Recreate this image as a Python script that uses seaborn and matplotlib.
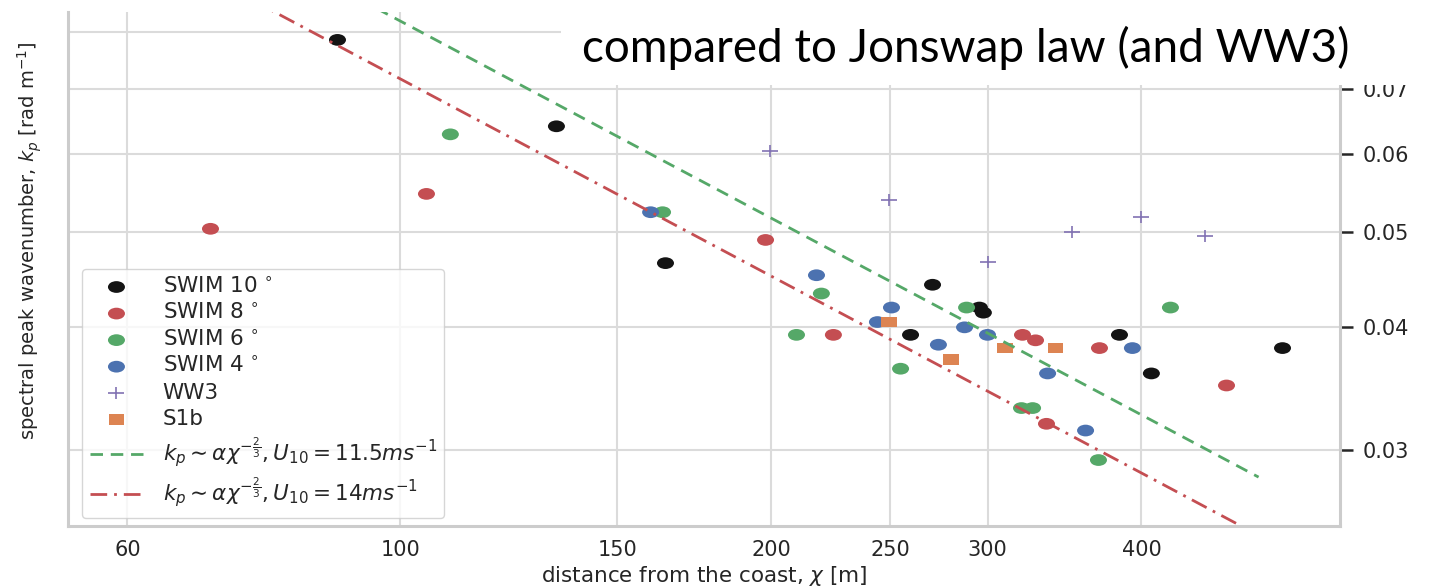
import matplotlib
matplotlib.use("Agg")
import matplotlib.pyplot as plt
import seaborn as sns
from matplotlib import ticker
from matplotlib.path import Path
from matplotlib.transforms import Affine2D
from matplotlib.patches import Rectangle

# Valores (distancia a la costa [m], k_p [rad/m])
swim10_x = [88.9, 133.9, 164.2, 259.7, 270.6, 295.4, 297.6, 383.9, 407.5, 520.8]
swim10_k = [0.0785, 0.0641, 0.0465, 0.0393, 0.0442, 0.0419, 0.0414, 0.0393, 0.0359, 0.0381]

swim8_x = [70.1, 105.0, 198.0, 224.8, 320.2, 328.1, 369.8, 334.9, 469.0]
swim8_k = [0.0504, 0.0547, 0.0491, 0.0393, 0.0393, 0.0388, 0.0381, 0.0319, 0.0349]

swim6_x = [109.8, 163.3, 219.8, 209.8, 254.9, 288.4, 319.6, 326.3, 369.1, 422.3]
swim6_k = [0.0629, 0.0524, 0.0433, 0.0393, 0.0363, 0.0419, 0.0331, 0.0331, 0.0293, 0.0419]

swim4_x = [159.7, 217.8, 250.6, 244.1, 273.6, 287.3, 299.9, 335.6, 360.3, 393.3]
swim4_k = [0.0524, 0.0452, 0.0419, 0.0405, 0.0384, 0.0400, 0.0393, 0.0359, 0.0314, 0.0381]

ww3_x = [199.8, 249.6, 300.4, 351.0, 399.4, 450.1]
ww3_k = [0.0605, 0.0539, 0.0466, 0.0500, 0.0518, 0.0496]

s1b_x = [249.6, 280.3, 310.1, 340.6]
s1b_k = [0.0405, 0.0371, 0.0381, 0.0381]

# Ley de Jonswap (rectas en log-log, extremos leídos)
law_x = [60, 498]
law_k_115 = [0.1153, 0.02815]
law_k_14 = [0.1007, 0.02456]

x_ticks = [60, 100, 150, 200, 250, 300, 400]
y_ticks = [0.03, 0.04, 0.05, 0.06, 0.07, 0.08]

sns.set_theme(style="whitegrid", rc={
    "axes.edgecolor": ".8",
    "axes.linewidth": 2.2,
    "grid.color": ".86",
    "grid.linewidth": 1.5,
    "text.color": ".15",
    "xtick.color": ".15",
    "ytick.color": ".15",
})

# marcadores algo estirados en horizontal, como en la imagen original
dot = Path.unit_circle().transformed(Affine2D().scale(1.45, 1.0))
box = Path.unit_rectangle().transformed(Affine2D().translate(-0.5, -0.5).scale(1.5, 1.0))
plus = Path([(-1.2, 0), (1.2, 0), (0, -1), (0, 1)],
            [Path.MOVETO, Path.LINETO, Path.MOVETO, Path.LINETO])

fig = plt.figure(figsize=(14.32, 5.87), dpi=100)
ax = fig.add_axes([0.0475, 0.1039, 0.8883, 0.8756])
ax.set_xscale("log")
ax.set_yscale("log")

series = [
    ("SWIM 10$\\,^\\circ$", swim10_x, swim10_k, "#141414"),
    ("SWIM 8$\\,^\\circ$", swim8_x, swim8_k, "#C44E52"),
    ("SWIM 6$\\,^\\circ$", swim6_x, swim6_k, "#55A868"),
    ("SWIM 4$\\,^\\circ$", swim4_x, swim4_k, "#4C72B0"),
]
for lab, xs, ks, col in series:
    sns.scatterplot(x=xs, y=ks, color=col, marker=dot, s=150, edgecolor="none",
                    label=lab, ax=ax)

sns.scatterplot(x=ww3_x, y=ww3_k, color="#8172B3", marker=plus, s=117,
                edgecolor="#8172B3", linewidth=1.2, label="WW3", ax=ax)
sns.scatterplot(x=s1b_x, y=s1b_k, color="#DD8452", marker=box, s=130,
                edgecolor="none", label="S1b", ax=ax)

sns.lineplot(x=law_x, y=law_k_115, color="#55A868", lw=2, linestyle=(0, (4.5, 2.8)),
             label=r"$k_p \sim \alpha\chi^{-\frac{2}{3}}, U_{10} = 11.5 ms^{-1}$", ax=ax)
sns.lineplot(x=law_x, y=law_k_14, color="#C44E52", lw=2, linestyle=(0, (6, 2.5, 1, 2.5)),
             label=r"$k_p \sim \alpha\chi^{-\frac{2}{3}}, U_{10} = 14 ms^{-1}$", ax=ax)

ax.set_xlim(53.7, 580)
ax.set_ylim(0.0251, 0.0838)

ax.xaxis.set_major_locator(ticker.FixedLocator(x_ticks))
ax.xaxis.set_major_formatter(ticker.FormatStrFormatter("%g"))
ax.xaxis.set_minor_locator(ticker.NullLocator())
ax.yaxis.set_major_locator(ticker.FixedLocator(y_ticks))
ax.yaxis.set_major_formatter(ticker.FormatStrFormatter("%.2f"))
ax.yaxis.set_minor_locator(ticker.NullLocator())

ax.yaxis.tick_right()
ax.yaxis.set_label_position("left")
ax.tick_params(axis="y", right=True, left=False, length=9, width=1.8, color=".15",
               pad=7, labelsize=15)
ax.tick_params(axis="x", bottom=False, length=0, pad=10, labelsize=15)
ax.spines["top"].set_visible(False)

ax.set_xlabel(r"distance from the coast, $\chi$ [m]", fontsize=15.5, labelpad=3)
ax.set_ylabel(r"spectral peak wavenumber, $k_p$ [rad m$^{-1}$]", fontsize=14)
ax.yaxis.set_label_coords(-0.0185, 0.5545)

ax.legend(loc="lower left", bbox_to_anchor=(0.011, 0.0156), borderaxespad=0,
          fontsize=15.5, handlelength=2.5, handletextpad=0.9, labelspacing=0.3,
          borderpad=0.35, frameon=True, framealpha=0.8, edgecolor=".8")

# recuadro blanco del título de la diapositiva
fig.patches.append(Rectangle((561 / 1432, 1 - 85 / 587), 1, 1, transform=fig.transFigure,
                             facecolor="white", edgecolor="none", zorder=5))
fig.text(582 / 1432, 1 - 62 / 587, "compared to Jonswap law (and WW3)",
         family="Lato", fontsize=33, color="black", va="baseline", zorder=6)

fig.savefig("out.png", dpi=100)
